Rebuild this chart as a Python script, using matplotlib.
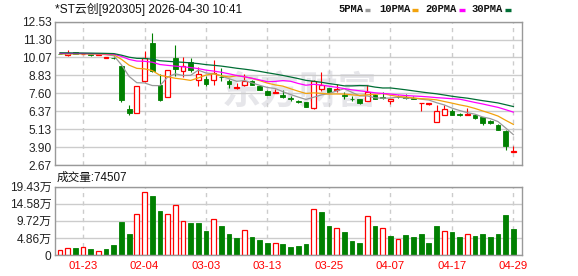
import numpy as np
import pandas as pd
import matplotlib
matplotlib.use("Agg")
import matplotlib.pyplot as plt

plt.rcParams['font.family'] = ['Liberation Sans', 'Noto Sans CJK SC']

# closes before the visible window, only used to seed the moving averages
prior_close = [10.52, 10.48, 10.50, 10.45, 10.47, 10.44, 10.46, 10.42, 10.45, 10.43,
               10.40, 10.41, 10.38, 10.42, 10.39, 10.36, 10.40, 10.37, 10.35, 10.38,
               10.34, 10.36, 10.33, 10.35, 10.31, 10.34, 10.30, 10.32, 10.28]

opens = [10.33, 10.22, 10.43, 10.31, 10.30, 10.25, 10.05, 10.06, 9.45, 6.55,
         6.26, 8.45, 11.07, 8.18, 7.35, 10.04, 9.13, 9.73, 8.52, 8.60,
         8.52, 8.74, 8.45, 7.99, 8.20, 8.42, 8.10, 7.79, 7.64, 7.46,
         7.26, 7.05, 6.98, 6.60, 7.90, 7.94, 7.86, 7.50, 7.22, 7.22,
         7.10, 7.46, 7.36, 7.05, 7.38, 7.38, 7.30, 6.91, 6.90, 5.64,
         6.14, 6.41, 6.21, 6.10, 6.09, 5.95, 5.72, 5.39, 5.04, 3.58]
highs = [10.37, 10.59, 10.45, 10.36, 10.32, 10.30, 10.12, 10.12, 9.56, 6.82,
         8.13, 10.52, 11.76, 8.92, 9.22, 10.93, 10.11, 10.02, 9.40, 8.76,
         9.91, 9.34, 8.60, 8.31, 8.94, 8.50, 8.14, 7.82, 7.90, 7.85,
         7.39, 7.15, 7.00, 8.54, 9.10, 8.00, 8.26, 7.71, 7.44, 7.24,
         8.20, 7.55, 7.66, 7.22, 7.46, 7.55, 7.40, 6.94, 6.93, 6.78,
         6.78, 6.50, 6.23, 6.60, 6.20, 5.97, 5.80, 5.47, 5.06, 3.98]
lows = [10.28, 10.20, 10.30, 10.28, 10.20, 10.22, 10.02, 9.98, 7.01, 6.09,
        6.26, 8.40, 9.10, 7.05, 7.35, 8.82, 8.70, 9.04, 8.10, 8.13,
        8.20, 8.42, 7.94, 7.90, 8.13, 8.15, 7.85, 7.46, 7.62, 7.28,
        7.05, 6.96, 6.64, 6.53, 7.74, 7.62, 7.67, 7.22, 7.05, 6.90,
        7.05, 7.20, 7.20, 6.89, 7.30, 7.20, 7.18, 6.37, 6.78, 5.64,
        6.14, 6.10, 6.07, 6.08, 5.82, 5.41, 5.50, 5.05, 3.70, 3.58]
closes = [10.30, 10.37, 10.32, 10.34, 10.23, 10.28, 10.10, 10.02, 7.17, 6.24,
          8.13, 10.02, 9.13, 7.12, 9.20, 9.25, 9.45, 9.18, 8.90, 8.22,
          8.99, 8.70, 8.22, 8.02, 8.47, 8.18, 7.86, 7.48, 7.68, 7.37,
          7.20, 7.00, 6.66, 8.42, 8.18, 7.66, 7.92, 7.40, 7.18, 6.95,
          7.67, 7.24, 7.30, 7.20, 7.34, 7.28, 7.24, 6.93, 6.92, 6.41,
          6.53, 6.14, 6.09, 6.19, 5.88, 5.58, 5.56, 5.08, 3.98, 3.60]
# volume in 万 shares
volume = [1.41, 1.88, 1.97, 2.16, 1.69, 1.13, 1.69, 2.82, 9.30, 5.92,
          11.55, 17.93, 16.90, 12.39, 11.55, 14.27, 9.77, 9.01, 9.01, 6.76,
          10.33, 8.17, 6.01, 4.79, 7.23, 5.07, 4.23, 3.47, 3.38, 3.19,
          2.25, 2.54, 3.10, 13.15, 12.11, 8.17, 7.79, 6.48, 3.94, 3.38,
          11.17, 8.17, 7.79, 5.35, 4.41, 5.63, 5.07, 5.92, 3.38, 8.17,
          6.95, 6.48, 5.07, 6.10, 5.35, 5.92, 5.07, 5.92, 11.27, 7.4507]

date_pos = [3, 11, 19, 27, 35, 43, 51, 59]
date_labels = ['01-23', '02-04', '03-03', '03-13', '03-25', '04-07', '04-17', '04-29']
price_ticks = [2.67, 3.90, 5.13, 6.37, 7.60, 8.83, 10.07, 11.30, 12.53]
price_labels = ['2.67', '3.90', '5.13', '6.37', '7.60', '8.83', '10.07', '11.30', '12.53']
vol_ticks = [0, 4.86, 9.72, 14.58, 19.43]
vol_labels = ['0', '4.86万', '9.72万', '14.58万', '19.43万']
ma_periods = [5, 10, 20, 30]
ma_names = ['5PMA', '10PMA', '20PMA', '30PMA']
ma_colors = ['#9a9a9a', '#f2a20c', '#ff00ff', '#006e35']

RED = '#ff0000'
GREEN = '#008000'
W, H = 578, 276

x = np.arange(len(closes))
o = np.array(opens); c = np.array(closes)
up = c >= o
prev = np.array([prior_close[-1]] + closes[:-1])
vol_up = c >= prev

all_close = pd.Series(prior_close + closes)
ma = {n: all_close.rolling(n).mean().iloc[len(prior_close):].values for n in ma_periods}

fig = plt.figure(figsize=(W / 100, H / 100), dpi=100)
ax = fig.add_axes([55 / W, 111 / H, 467.3 / W, 143.3 / H])
axv = fig.add_axes([55 / W, 21 / H, 467.3 / W, 68.3 / H])

for a in (ax, axv):
    a.set_xlim(-0.65, 60.16)
    a.set_axisbelow(True)
    a.set_xticks(date_pos)
    a.grid(axis='x', color='#cccccc', lw=1, ls=(0, (3, 3)))
    a.grid(axis='y', color='#cccccc', lw=1)
    for s in a.spines.values():
        s.set_color('#999999')
        s.set_linewidth(1)
    a.tick_params(length=0, pad=2.5, labelsize=8.6, labelcolor='#222222')

# candles
bw = 0.62
ax.vlines(x, lows, highs, colors=np.where(up, RED, GREEN), lw=0.8, zorder=2)
ax.bar(x[up], (c - o)[up], bottom=o[up], width=bw, facecolor='white',
       edgecolor=RED, lw=0.9, zorder=3)
ax.bar(x[~up], (o - c)[~up], bottom=c[~up], width=bw, facecolor=GREEN,
       edgecolor=GREEN, lw=0.6, zorder=3)
for n, col in zip(ma_periods, ma_colors):
    ax.plot(x, ma[n], color=col, lw=0.9, zorder=4)

ax.set_ylim(2.67, 12.53)
ax.set_yticks(price_ticks)
ax.set_yticklabels(price_labels)
ax.set_xticklabels([])
ax.text(0.524, 0.495, '东方财富', transform=ax.transAxes, fontsize=28, color='#e6e6ea',
        ha='center', va='center', fontweight='bold', zorder=0)

# volume
v = np.array(volume)
axv.bar(x[vol_up], v[vol_up], width=bw, facecolor='white', edgecolor=RED, lw=0.9)
axv.bar(x[~vol_up], v[~vol_up], width=bw, facecolor=GREEN, edgecolor=GREEN, lw=0.6)
axv.set_ylim(0, 19.43)
axv.set_yticks(vol_ticks)
axv.set_yticklabels(vol_labels)
axv.set_xticklabels(date_labels, color=RED, fontsize=8.2)
axv.tick_params(axis='x', pad=4)

def px(px_x, px_y):
    return px_x / W, 1 - px_y / H

fig.text(*px(55, 9.5), '*ST云创[920305] 2026-04-30 10:41', fontsize=8.6,
         va='center', ha='left', color='#111111')
fig.text(*px(57, 177.5), '成交量:' + str(int(round(volume[-1] * 10000))), fontsize=8.4,
         va='center', ha='left', color='#111111')

# legend: name followed by a short colored dash
leg_x = [338.7, 379.7, 425.3, 471.3]
dash_x = [364.7, 412, 459, 505.3]
for name, col, lx, dx in zip(ma_names, ma_colors, leg_x, dash_x):
    fig.text(*px(lx, 9.5), name, fontsize=7.6, family='Liberation Mono',
             fontweight='bold', va='center', ha='left', color='#111111')
    fig.add_artist(plt.Line2D([dx / W, (dx + 5.5) / W], [1 - 9.5 / H] * 2,
                              color=col, lw=2.4, solid_capstyle='butt'))

fig.savefig('out.png', dpi=100)
